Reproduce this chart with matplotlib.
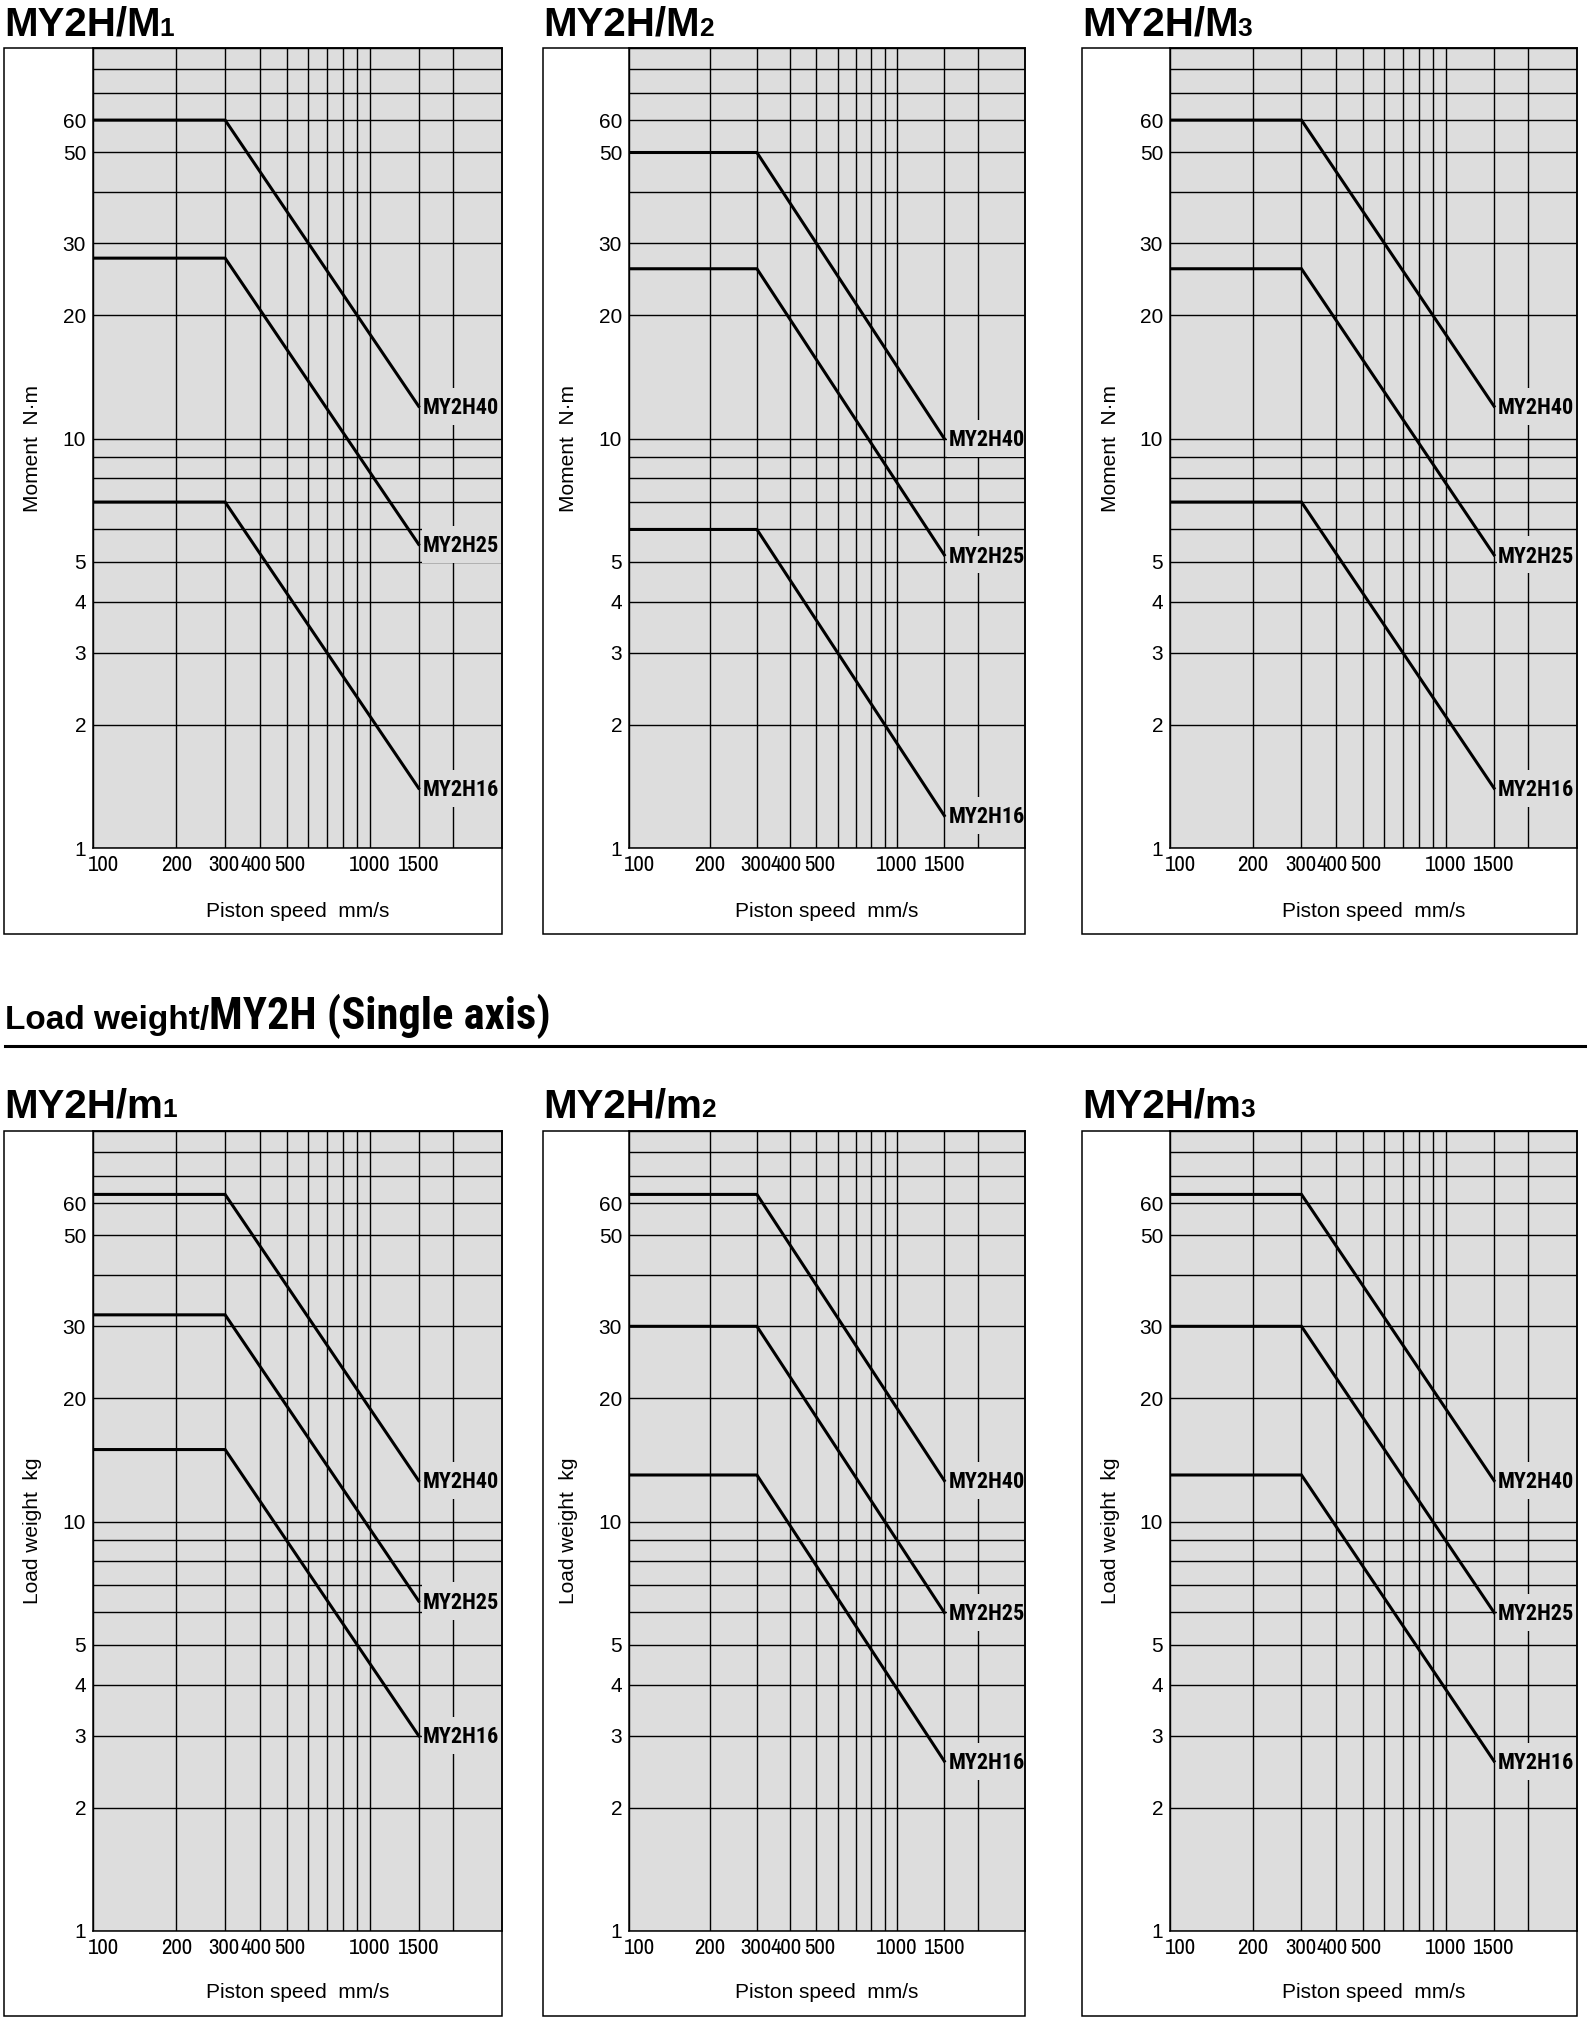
import matplotlib
matplotlib.use("Agg")
import matplotlib.pyplot as plt
import matplotlib.transforms as mtransforms
from matplotlib.patches import Rectangle
from matplotlib.lines import Line2D
from matplotlib.ticker import NullLocator

W, H = 1587, 2023
REG = ["Liberation Sans", "DejaVu Sans"]
NARROW = ["Archivo Narrow", "Liberation Sans"]
NARROW_B = ["Roboto Condensed", "PT Sans Narrow", "Liberation Sans"]
BG = "#dddddd"

# piston speed break points (mm/s): flat up to 300, falling to 1500
speed = [100, 300, 1500]
models = ["MY2H40", "MY2H25", "MY2H16"]

# allowable moment N·m (flat part, value at 1500 mm/s)
M1_flat = [60, 27.6, 7]
M1_end = [12, 5.52, 1.4]
M2_flat = [50, 26, 6]
M2_end = [10, 5.2, 1.2]
M3_flat = [60, 26, 7]
M3_end = [12, 5.2, 1.4]

# allowable load weight kg
m1_flat = [63, 32, 15]
m1_end = [12.6, 6.4, 3]
m2_flat = [63, 30, 13]
m2_end = [12.6, 6, 2.6]
m3_flat = [63, 30, 13]
m3_end = [12.6, 6, 2.6]

x_grid = [100, 200, 300, 400, 500, 600, 700, 800, 900, 1000, 1500, 2000]
x_ticks = [100, 200, 300, 400, 500, 1000, 1500]
x_labels = ["100", "200", "300", "400", "500", "1000", "1500"]
x_shift = [10, 0, -1, -4, 3, 0, 0]   # px, labels are squeezed in the original
y_grid = [1, 2, 3, 4, 5, 6, 7, 8, 9, 10, 20, 30, 40, 50, 60, 70, 80, 90]
y_labels = ["1", "2", "3", "4", "5", "", "", "", "", "10", "20", "30", "", "50", "60", "", "", ""]

fig = plt.figure(figsize=(W / 100, H / 100), dpi=100)
renderer = fig.canvas.get_renderer()


def fx(px):
    return px / W


def fy(py):
    return 1 - py / H


def title(x, base, main, sub, size=29, subsize=19):
    t = fig.text(fx(x), fy(base), main, fontsize=size, weight="bold",
                 family=REG, va="baseline", ha="left")
    bb = t.get_window_extent(renderer)
    fig.text(fx(bb.x1 - 1), fy(base), sub, fontsize=subsize, weight="bold",
             family=REG, va="baseline", ha="left")


def panel(box_x, plot_x0, box_y, plot_y1, flat, end, ylabel, xlab_drop):
    bx0, bx1 = box_x
    by0, by1 = box_y
    fig.add_artist(Rectangle((fx(bx0), fy(by1)), fx(bx1 - bx0), (by1 - by0) / H,
                             transform=fig.transFigure, fill=False,
                             ec="black", lw=1.1))
    pw = bx1 - plot_x0
    ph = plot_y1 - by0
    ax = fig.add_axes([fx(plot_x0), fy(plot_y1), fx(pw), ph / H])
    ax.set_facecolor(BG)
    ax.set_xscale("log")
    ax.set_yscale("log")
    ax.set_xlim(100, 3000)
    ax.set_ylim(1, 90)
    ax.set_xticks(x_grid)
    ax.set_xticklabels([""] * len(x_grid))
    ax.set_yticks(y_grid)
    ax.set_yticklabels(y_labels, fontsize=15, family=REG)
    ax.xaxis.set_minor_locator(NullLocator())
    ax.yaxis.set_minor_locator(NullLocator())
    ax.tick_params(length=0, pad=5)
    ax.set_axisbelow(True)
    ax.grid(True, color="black", lw=1.0)
    for s in ax.spines.values():
        s.set_linewidth(1.1)

    for v, lab, dx in zip(x_ticks, x_labels, x_shift):
        off = mtransforms.ScaledTranslation(dx / 100, -7 / 100, fig.dpi_scale_trans)
        ax.text(v, 0, lab, fontsize=16.5, family=NARROW, ha="center", va="top",
                transform=ax.get_xaxis_transform() + off)

    for name, f, e in zip(models, flat, end):
        ax.plot(speed, [f, f, e], color="black", lw=2.2,
                solid_joinstyle="miter", zorder=3)
        ax.add_patch(Rectangle((1500 * 1.025, e / 1.11), 3000 - 1500 * 1.025,
                               e * 1.11 - e / 1.11, fc=BG, ec="none", zorder=1))
        ax.text(1500 * 1.035, e / 1.01, name, ha="left", va="center",
                fontsize=16, weight="bold", family=NARROW_B, zorder=4)

    ax.text(0.5, -xlab_drop / ph, "Piston speed  mm/s", transform=ax.transAxes,
            ha="center", va="baseline", fontsize=15, family=REG)
    ax.text(-60 / pw, 0.5, ylabel, transform=ax.transAxes, rotation=90,
            ha="center", va="center", fontsize=15, family=REG)
    return ax


cols_box = [(4, 502), (543, 1025), (1082, 1577)]
cols_plot = [93, 629, 1170]

top_sets = [("M", "1", M1_flat, M1_end), ("M", "2", M2_flat, M2_end),
            ("M", "3", M3_flat, M3_end)]
bot_sets = [("m", "1", m1_flat, m1_end), ("m", "2", m2_flat, m2_end),
            ("m", "3", m3_flat, m3_end)]

for i, (letter, sub, f, e) in enumerate(top_sets):
    title(cols_box[i][0], 36, "MY2H/" + letter, sub)
    panel(cols_box[i], cols_plot[i], (48, 934), 848, f, e, "Moment  N·m", 69)

for i, (letter, sub, f, e) in enumerate(bot_sets):
    title(cols_box[i][0], 1117, "MY2H/" + letter, sub)
    panel(cols_box[i], cols_plot[i], (1131, 2016), 1931, f, e,
          "Load weight  kg", 67)

# section header
h1 = fig.text(fx(5), fy(1029), "Load weight/", fontsize=24, weight="bold",
              family=REG, va="baseline")
bb = h1.get_window_extent(renderer)
fig.text(fx(bb.x1), fy(1029), "MY2H (Single axis)", fontsize=32, weight="bold",
         family=NARROW_B, va="baseline")
fig.add_artist(Line2D([fx(5), 1.0], [fy(1046), fy(1046)], color="black", lw=2.2,
                      transform=fig.transFigure))

fig.savefig("out.png", dpi=100, facecolor="white")
